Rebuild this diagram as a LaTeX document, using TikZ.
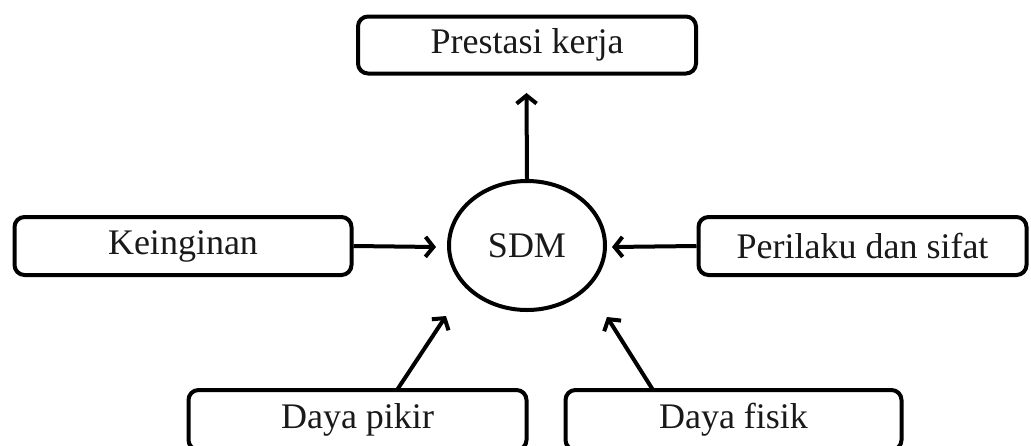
\documentclass[tikz,border=0pt]{standalone}
\usepackage{fontspec}
\setmainfont{Liberation Serif}
\usetikzlibrary{arrows.meta,shapes.geometric}
\tikzset{
  box/.style={draw=black, line width=4pt, rounded corners=10pt, fill=white,
    inner sep=0pt, font=\fontsize{36}{40}\selectfont, text=black!90},
  conn/.style={line width=4pt, draw=black,
    -{Straight Barb[length=8pt,width=20pt,line width=4pt]}},
}
\begin{document}
\begin{tikzpicture}[x=1pt,y=-1pt]
\useasboundingbox (0,0) rectangle (1031,445);
\clip (0,0) rectangle (1031,445);
\fill[white] (0,0) rectangle (1031,445);
\node[box, minimum width=338pt, minimum height=57pt] (prestasi) at (527,45) {Prestasi kerja};
\node[box, minimum width=337pt, minimum height=58pt] (keinginan) at (183,246) {Keinginan};
\node[box, minimum width=328pt, minimum height=58pt] (perilaku) at (862.5,246) {Perilaku dan sifat};
\node[box, minimum width=338pt, minimum height=60pt] (pikir) at (357.5,420) {Daya pikir};
\node[box, minimum width=336pt, minimum height=60pt] (fisik) at (733.5,420) {Daya fisik};
\node[draw=black, line width=4pt, ellipse, minimum width=156pt, minimum height=129pt,
  inner sep=0pt, font=\fontsize{36}{40}\selectfont, text=black!90] (sdm) at (527,245.5) {SDM};
\coordinate (tTop) at (526.5,93);
\coordinate (tLeft) at (436,247);
\coordinate (tRight) at (612,247);
\coordinate (tBL) at (446,316);
\coordinate (tBR) at (607,317);
\coordinate (sBL) at (397,390);
\coordinate (sBR) at (653,390);
\draw[conn] (sdm.north) -- (tTop);
\draw[conn] (keinginan.east) -- (tLeft);
\draw[conn] (perilaku.west) -- (tRight);
\draw[conn] (sBL) -- (tBL);
\draw[conn] (sBR) -- (tBR);
\end{tikzpicture}
\end{document}
